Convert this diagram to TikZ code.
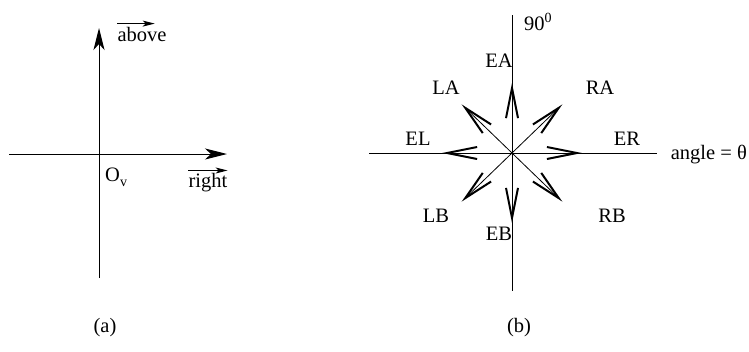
\documentclass[tikz,border=0pt]{standalone}
\usepackage{fontspec}
\setmainfont{Liberation Serif}
\usetikzlibrary{arrows.meta,calc}
\begin{document}
\begin{tikzpicture}[x=1pt,y=-1pt,
  lbl/.style={inner sep=0pt,font=\fontsize{20.5}{24}\selectfont},
  axis/.style={line width=1pt},
  bigarrow/.style={line width=1pt,-{Stealth[length=22pt,width=11pt,inset=6pt]}},
  overarrow/.style={line width=1pt,-{Stealth[length=12pt,width=6pt,inset=3pt]}},
  dirarrow/.style={line width=0.8pt,-{Straight Barb[length=30pt,width=12pt,line width=2pt]}}]
\useasboundingbox (0,0) rectangle (749,351);
% ---------- panel (a)
\coordinate (oa) at (99,154);
\coordinate (abot) at (99,278);
\coordinate (atop) at (99,28);
\coordinate (aleft) at (9,154);
\coordinate (aright) at (227,154);
\draw[axis] (abot) -- (oa);
\draw[bigarrow] (oa) -- (atop);
\draw[axis] (aleft) -- (oa);
\draw[bigarrow] (oa) -- (aright);
\node[lbl] (above) at (142,34) {above};
\draw[overarrow] ([yshift=3pt]above.north west) -- ([yshift=3pt,xshift=-12pt]above.north east);
\node[lbl] (right) at (208,183) {right};
\draw[overarrow] ([yshift=3pt]right.north west) -- ([yshift=3pt]right.north east);
\node[lbl,anchor=west] (ov) at (105,177) {O\raisebox{-5pt}{\fontsize{14}{14}\selectfont v}};
\node[lbl] (capa) at (105,328) {(a)};
% ---------- panel (b)
\coordinate (ob) at (512,153);
\coordinate (btop) at (512,15);
\coordinate (bbot) at (512,291);
\coordinate (bleft) at (369,153);
\coordinate (bright) at (657,153);
\draw[axis] (btop) -- (bbot);
\draw[axis] (bleft) -- (bright);
\foreach \n/\a in {ER/0,RA/44,EA/90,LA/136,EL/180,LB/224,EB/270,RB/316}{
  \coordinate (t\n) at ($(ob)+(\a:70pt)$);
}
\foreach \n in {ER,RA,EA,LA,EL,LB,EB,RB}{
  \draw[dirarrow] (ob) -- (t\n);
}
\node[lbl] (EA) at (499,61) {EA};
\node[lbl] (LA) at (446,88) {LA};
\node[lbl] (RA) at (600,88) {RA};
\node[lbl] (EL) at (418,139) {EL};
\node[lbl] (ER) at (627,139) {ER};
\node[lbl] (LB) at (436,216) {LB};
\node[lbl] (EB) at (499,234) {EB};
\node[lbl] (RB) at (612,216) {RB};
\node[lbl,anchor=west] (ninety) at (524,22) {90\raisebox{8pt}{\fontsize{14}{14}\selectfont 0}};
\node[lbl,anchor=east] (angle) at (747,155) {angle = θ};
\node[lbl] (capb) at (519,328) {(b)};
\end{tikzpicture}
\end{document}
